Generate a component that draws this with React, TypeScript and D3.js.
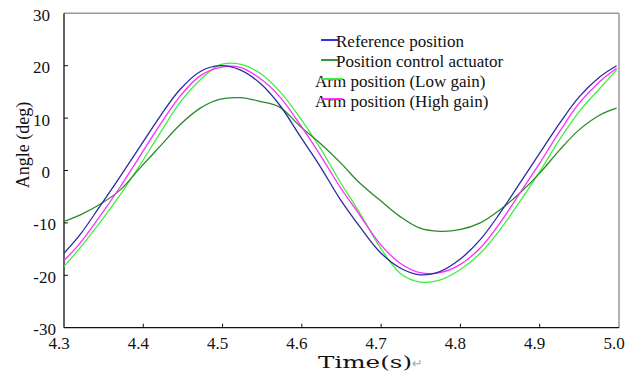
import React from "react";
import * as d3 from "d3";

const times = [4.300, 4.320, 4.345, 4.371, 4.396, 4.421, 4.446, 4.472, 4.497, 4.522, 4.547, 4.572, 4.598, 4.623, 4.648, 4.673, 4.698, 4.724, 4.749, 4.774, 4.799, 4.825, 4.850, 4.875, 4.900, 4.925, 4.950, 4.976, 4.997];
const reference = [-15.8, -12.3, -6.9, -1.1, 4.6, 10.3, 15.4, 18.9, 20.0, 19.2, 16.7, 12.5, 6.5, 0.8, -5.4, -10.7, -15.5, -18.6, -19.9, -19.3, -17.0, -13.2, -8.1, -2.4, 3.3, 9.0, 14.1, 17.9, 20.0];
const actuator = [-9.7, -8.5, -6.5, -3.7, 0.5, 4.6, 8.7, 11.9, 13.6, 13.9, 13.2, 12.1, 8.4, 5.2, 1.6, -2.4, -5.6, -8.8, -11.0, -11.6, -11.3, -10.0, -7.5, -4.3, -0.5, 3.9, 7.8, 10.6, 11.9];
const lowGain = [-18.3, -14.8, -10.0, -4.6, 1.1, 7.1, 12.9, 17.3, 20.2, 20.3, 18.6, 15.1, 10.0, 4.3, -2.1, -8.1, -14.5, -19.6, -21.3, -20.9, -19.0, -15.8, -11.3, -5.9, -0.2, 5.9, 11.3, 15.7, 19.2];
const highGain = [-17.2, -13.9, -8.8, -3.1, 2.8, 8.7, 14.1, 18.1, 19.7, 19.7, 17.6, 14.1, 8.7, 3.0, -3.1, -8.5, -13.9, -17.7, -19.5, -19.5, -18.0, -14.8, -10.0, -4.3, 1.4, 7.4, 12.9, 17.0, 19.5];

const xTicks = [4.3, 4.4, 4.5, 4.6, 4.7, 4.8, 4.9, 5.0];
const yTicks = [30, 20, 10, 0, -10, -20, -30];
const seriesNames = ["Reference position", "Position control actuator", "Arm position (Low gain)", "Arm position (High gain)"];

const W = 635, H = 377;
const L = 64, R = 619, T = 13.3, B = 327.7;
const FONT = "'Liberation Serif', 'Times New Roman', serif";

export default function App() {
  const x = d3.scaleLinear().domain([4.3, 5.0]).range([L, R]);
  const y = d3.scaleLinear().domain([-30, 30]).range([B, T]);
  const line = (vals: number[]) =>
    d3.line<number>().x((_, i) => x(times[i])).y((v) => y(v)).curve(d3.curveCatmullRom)(vals) || "";

  const series = [
    { vals: lowGain, color: "#3df03d" },
    { vals: actuator, color: "#2a8a2a" },
    { vals: highGain, color: "#ff2cff" },
    { vals: reference, color: "#2b2ba0" },
  ];
  const legendRows = [
    { name: seriesNames[0], color: "#1a1af0", tx: 336, x1: 321, x2: 338 },
    { name: seriesNames[1], color: "#1f8f1f", tx: 336, x1: 321, x2: 338 },
    { name: seriesNames[2], color: "#33ee33", tx: 315, x1: 321, x2: 343 },
    { name: seriesNames[3], color: "#ff22ff", tx: 315, x1: 321, x2: 343 },
  ];

  return (
    <svg width={W} height={H} style={{ position: "absolute", left: 0, top: 0, background: "#fff" }} fontFamily={FONT}>
      <rect x={0} y={0} width={W} height={H} fill="#fff" />
      {/* frame */}
      <line x1={L} y1={T} x2={R} y2={T} stroke="#9a9a9a" strokeWidth={1.5} />
      <line x1={R} y1={T} x2={R} y2={B} stroke="#9a9a9a" strokeWidth={1.5} />
      <line x1={L} y1={T} x2={L} y2={B} stroke="#111" strokeWidth={1.3} />
      <line x1={L} y1={B} x2={R} y2={B} stroke="#111" strokeWidth={1.3} />
      {/* ticks */}
      {xTicks.slice(1, -1).map((t) => (
        <line key={"xt" + t} x1={x(t)} x2={x(t)} y1={B} y2={B - 4} stroke="#111" strokeWidth={1} />
      ))}
      {yTicks.slice(1, -1).map((v) => (
        <line key={"yt" + v} x1={L} x2={L + 4} y1={y(v)} y2={y(v)} stroke="#111" strokeWidth={1} />
      ))}
      {/* tick labels */}
      {xTicks.map((t) => (
        <text key={"xl" + t} x={x(t) - 5} y={349} fontSize={17} textAnchor="middle" fill="#111">
          {t.toFixed(1)}
        </text>
      ))}
      {yTicks.map((v) => (
        <text key={"yl" + v} x={v < 0 ? 56 : 50} y={y(v) + 7.5} fontSize={17} textAnchor="end" fill="#111">
          {String(v)}
        </text>
      ))}
      {/* axis titles */}
      <text x={0} y={0} fontSize={18} textAnchor="middle" fill="#111" transform={`translate(29,145) rotate(-90)`}>
        Angle (deg)
      </text>
      <text x={318} y={368} fontSize={17} fill="#111" fontFamily="'DejaVu Serif', serif" textLength={94} lengthAdjust="spacingAndGlyphs">
        Time(s)
      </text>
      <text x={412} y={368} fontSize={13} fill="#aaa" fontFamily="'DejaVu Sans', sans-serif">
        ↵
      </text>
      {/* series */}
      {series.map((s, i) => (
        <path key={"s" + i} d={line(s.vals)} fill="none" stroke={s.color} strokeWidth={1.3} />
      ))}
      {/* legend */}
      {legendRows.map((r, i) => (
        <g key={"lg" + i}>
          <text x={r.tx} y={47 + i * 20} fontSize={17} fill="#111">
            {r.name}
          </text>
          <line x1={r.x1} x2={r.x2} y1={40 + i * 20 - (i > 1 ? 1 : 0)} y2={40 + i * 20 - (i > 1 ? 1 : 0)} stroke={r.color} strokeWidth={1.8} />
        </g>
      ))}
    </svg>
  );
}
